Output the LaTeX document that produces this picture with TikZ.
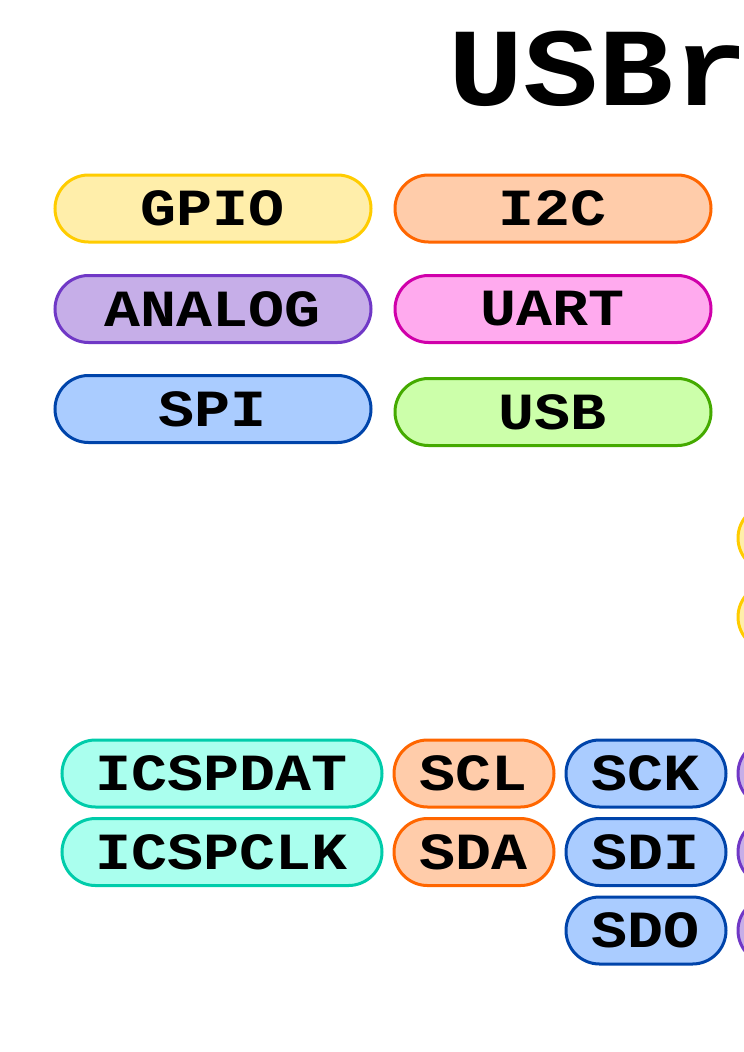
\documentclass[tikz,border=0pt]{standalone}
\usepackage{fontspec}
\usepackage{graphicx}
\setmonofont{Liberation Mono}
\usetikzlibrary{positioning}
\definecolor{GpioFill}{HTML}{FFEEAA}
\definecolor{GpioLine}{HTML}{FFCC00}
\definecolor{IicFill}{HTML}{FFCCAA}
\definecolor{IicLine}{HTML}{FF6600}
\definecolor{AnaFill}{HTML}{C6AEE8}
\definecolor{AnaLine}{HTML}{7038C6}
\definecolor{UartFill}{HTML}{FFAAEE}
\definecolor{UartLine}{HTML}{D000AA}
\definecolor{SpiFill}{HTML}{AACCFF}
\definecolor{SpiLine}{HTML}{0044AA}
\definecolor{UsbFill}{HTML}{CCFFAA}
\definecolor{UsbLine}{HTML}{44AA00}
\definecolor{IcspFill}{HTML}{AAFFEE}
\definecolor{IcspLine}{HTML}{00CCAA}
\newcommand{\squash}[1]{\scalebox{1}[0.87]{#1}}
\tikzset{
  pill/.style={rectangle, rounded corners=33.5pt, line width=3pt,
               minimum height=67pt, inner sep=0pt,
               font=\fontsize{60}{60}\selectfont\ttfamily\bfseries},
  wide/.style={pill, minimum width=316pt},
  pin/.style={pill, minimum width=160pt},
  gpio/.style={draw=GpioLine, fill=GpioFill},
  iic/.style={draw=IicLine, fill=IicFill},
  ana/.style={draw=AnaLine, fill=AnaFill},
  uart/.style={draw=UartLine, fill=UartFill},
  spi/.style={draw=SpiLine, fill=SpiFill},
  usb/.style={draw=UsbLine, fill=UsbFill},
  icsp/.style={draw=IcspLine, fill=IcspFill},
}
\begin{document}
\begin{tikzpicture}[x=1pt, y=-1pt]
\useasboundingbox (0,0) rectangle (744,1052);
\clip (0,0) rectangle (744,1052);
% ---------------------------------------------------------------- title
\node[anchor=base west, inner sep=0pt, font=\fontsize{125}{125}\selectfont\ttfamily\bfseries] (title) at (448,105) {\scalebox{1}[0.89]{USBr}};
% ---------------------------------------------------------------- legend
\node[wide, gpio] (gpio) at (213,208.5) {\squash{GPIO}};
\node[wide, iic]  (iic)  at (553,208.5) {\squash{I2C}};
\node[wide, ana]  (ana)  at (213,309) {\squash{ANALOG}};
\node[wide, uart] (uart) at (553,309) {\squash{UART}};
\node[wide, spi]  (spi)  at (213,409) {\squash{SPI}};
\node[wide, usb]  (usb)  at (553,412) {\squash{USB}};
% ---------------------------------------------------------------- pins
\foreach \y [count=\i] in {538,617} {\node[pin, gpio] (gp\i) at (818,\y) {};}
\node[pill, icsp, minimum width=320pt] (icspdat) at (222,773.5) {\squash{ICSPDAT}};
\node[pill, icsp, minimum width=320pt] (icspclk) at (222,852) {\squash{ICSPCLK}};
\node[pin, iic] (scl) at (474,773.5) {\squash{SCL}};
\node[pin, iic] (sda) at (474,852) {\squash{SDA}};
\node[pin, spi] (sck) at (646,773.5) {\squash{SCK}};
\node[pin, spi] (sdi) at (646,852) {\squash{SDI}};
\node[pin, spi] (sdo) at (646,930.5) {\squash{SDO}};
\foreach \y [count=\i] in {773.5,852,930.5} {\node[pin, ana] (an\i) at (818,\y) {};}
\end{tikzpicture}
\end{document}
